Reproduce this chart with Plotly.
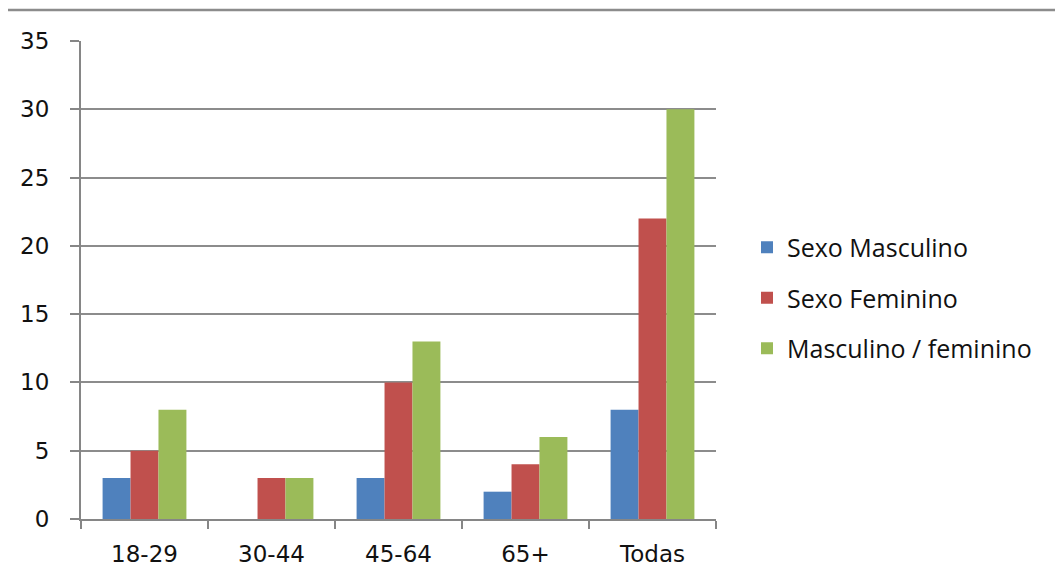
import plotly.graph_objects as go

categorias = ["18-29", "30-44", "45-64", "65+", "Todas"]
masculino = [3, 0, 3, 2, 8]
feminino = [5, 3, 10, 4, 22]
masc_fem = [8, 3, 13, 6, 30]

series = [
    ("Sexo Masculino", masculino, "#4F81BD"),
    ("Sexo Feminino", feminino, "#C0504D"),
    ("Masculino / feminino", masc_fem, "#9BBB59"),
]

fig = go.Figure()
for i, (nome, vals, cor) in enumerate(series):
    fig.add_trace(go.Bar(x=categorias, y=vals, name=nome, marker_color=cor,
                         marker_line_width=0, legendgroup=f"g{i}"))

# page has an 8px body margin, so the figure is drawn 8px in from the window edge
OFF = 8
W, H = 1063 - OFF, 583 - OFF
L, T = 81 - OFF, 41 - OFF
R = W - (716 - OFF)
B = H - (519 - OFF)
pw = W - L - R
ph = H - T - B

fig.update_layout(
    width=W, height=H,
    margin=dict(l=L, r=R, t=T, b=B, pad=0),
    paper_bgcolor="white", plot_bgcolor="white",
    barmode="group", bargap=0.34, bargroupgap=0,
    font=dict(family="DejaVu Sans", size=23, color="#111111"),
    legend=dict(x=(747 - 81) / pw, y=(519 - 298) / ph, xanchor="left", yanchor="middle",
                font=dict(family="Open Sans", size=25, color="#111111"),
                tracegroupgap=15, bgcolor="rgba(0,0,0,0)"),
    showlegend=True,
    xaxis=dict(showline=True, linecolor="#868686", linewidth=2, ticks="outside",
               tickson="boundaries", ticklen=8, tickcolor="#868686", tickwidth=2,
               showgrid=False, tickfont=dict(size=23), ticklabelstandoff=13),
    yaxis=dict(range=[0, 35], dtick=5, showline=True, linecolor="#868686", linewidth=2,
               ticks="outside", ticklen=9, tickcolor="#868686", tickwidth=2,
               showgrid=True, gridcolor="#8c8c8c", gridwidth=2, zeroline=False,
               tickfont=dict(size=23), ticklabelstandoff=16),
    shapes=[dict(type="line", xref="paper", yref="paper",
                 x0=-L / pw - 0.05, x1=(W - L) / pw + 0.05,
                 y0=(H - B - 2) / ph, y1=(H - B - 2) / ph,
                 line=dict(color="#8c8c8c", width=2.5))],
)

fig.write_html("out.html")
